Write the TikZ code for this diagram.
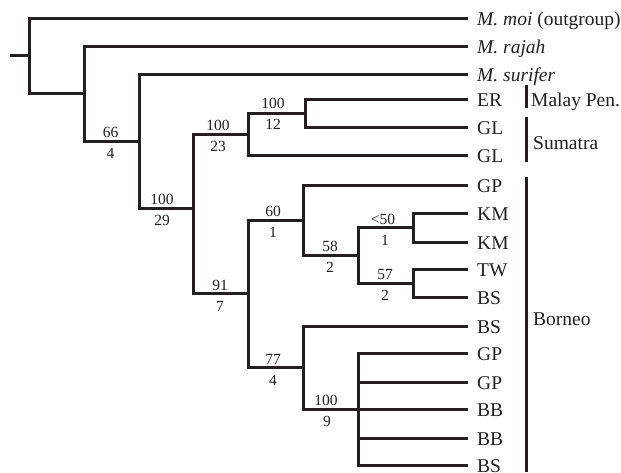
\documentclass[tikz,border=0pt]{standalone}
\usepackage{fontspec}
\setmainfont{Liberation Serif}
\definecolor{ink}{RGB}{35,31,32}
\begin{document}
\begin{tikzpicture}[x=1pt,y=-1pt,
  br/.style={line width=3pt,draw=ink},
  bar/.style={line width=3pt,draw=ink},
  tip/.style={anchor=west,inner xsep=9pt,inner ysep=0pt,text height=14pt,text depth=0pt,text=ink,font=\fontsize{19.5}{19.5}\selectfont},
  reg/.style={anchor=base west,inner sep=0pt,text=ink,font=\fontsize{19.5}{19.5}\selectfont},
  bs/.style={anchor=base,inner sep=0pt,text=ink,font=\fontsize{15.5}{15.5}\selectfont}]
\useasboundingbox (0,0) rectangle (621,472);
% tips
\node[tip] (t1) at (468,18) {\textit{M. moi} (outgroup)};
\node[tip] (t2) at (468,46) {\textit{M. rajah}};
\node[tip] (t3) at (468,74) {\textit{M. surifer}};
\node[tip] (t4) at (468,99) {ER};
\node[tip] (t5) at (468,127) {GL};
\node[tip] (t6) at (468,155) {GL};
\node[tip] (t7) at (468,185) {GP};
\node[tip] (t8) at (468,213) {KM};
\node[tip] (t9) at (468,242) {KM};
\node[tip] (t10) at (468,269) {TW};
\node[tip] (t11) at (468,297) {BS};
\node[tip] (t12) at (468,326) {BS};
\node[tip] (t13) at (468,353) {GP};
\node[tip] (t14) at (468,382) {GP};
\node[tip] (t15) at (468,409) {BB};
\node[tip] (t16) at (468,438) {BB};
\node[tip] (t17) at (468,465) {BS};
% internal nodes
\coordinate (stem) at (10,55.5);
\coordinate (root) at (29,55.5);
\coordinate (nA) at (84,93.5);
\coordinate (nB) at (139,141);
\coordinate (nC) at (193,208);
\coordinate (nD) at (248,134);
\coordinate (nE) at (305,113);
\coordinate (nF) at (248,293.5);
\coordinate (nG) at (303,220);
\coordinate (nH) at (358,255);
\coordinate (nI) at (413,227.5);
\coordinate (nJ) at (413,283);
\coordinate (nK) at (303,367.5);
\coordinate (nL) at (358,409);
% branches
\draw[br] (stem) -- (root);
\draw[br] (root) |- (t1.west);
\draw[br] (root) |- (nA);
\draw[br] (nA) |- (t2.west);
\draw[br] (nA) |- (nB);
\draw[br] (nB) |- (t3.west);
\draw[br] (nB) |- (nC);
\draw[br] (nC) |- (nD);
\draw[br] (nC) |- (nF);
\draw[br] (nD) |- (nE);
\draw[br] (nD) |- (t6.west);
\draw[br] (nE) |- (t4.west);
\draw[br] (nE) |- (t5.west);
\draw[br] (nF) |- (nG);
\draw[br] (nF) |- (nK);
\draw[br] (nG) |- (t7.west);
\draw[br] (nG) |- (nH);
\draw[br] (nH) |- (nI);
\draw[br] (nH) |- (nJ);
\draw[br] (nI) |- (t8.west);
\draw[br] (nI) |- (t9.west);
\draw[br] (nJ) |- (t10.west);
\draw[br] (nJ) |- (t11.west);
\draw[br] (nK) |- (t12.west);
\draw[br] (nK) |- (nL);
\draw[br] (nL) |- (t13.west);
\draw[br] (nL) |- (t14.west);
\draw[br] (nL) |- (t15.west);
\draw[br] (nL) |- (t16.west);
\draw[br] (nL) |- (t17.west);
% support values
\node[bs] (sB1) at (110.5,137.5) {66};
\node[bs] (sB2) at (110.5,158.5) {4};
\node[bs] (sC1) at (162,204.5) {100};
\node[bs] (sC2) at (162,225.5) {29};
\node[bs] (sD1) at (218,130.5) {100};
\node[bs] (sD2) at (218,151.5) {23};
\node[bs] (sE1) at (273,108.5) {100};
\node[bs] (sE2) at (273,129.5) {12};
\node[bs] (sG1) at (273,216.5) {60};
\node[bs] (sG2) at (273,237.5) {1};
\node[bs] (sF1) at (220,290) {91};
\node[bs] (sF2) at (220,311) {7};
\node[bs] (sK1) at (273,364) {77};
\node[bs] (sK2) at (273,385) {4};
\node[bs] (sH1) at (330,251) {58};
\node[bs] (sH2) at (330,272) {2};
\node[bs] (sI1) at (383,224) {<50};
\node[bs] (sI2) at (385,245) {1};
\node[bs] (sJ1) at (385,279.5) {57};
\node[bs] (sJ2) at (385,300.5) {2};
\node[bs] (sL1) at (326,405.5) {100};
\node[bs] (sL2) at (327,426.5) {9};
% regions
\draw[bar] (526,85) -- (526,108);
\draw[bar] (526,117) -- (526,162);
\draw[bar] (526,177) -- (526,472);
\node[reg] (rM) at (531,106) {Malay Pen.};
\node[reg] (rS) at (533,149) {Sumatra};
\node[reg] (rB) at (533,325) {Borneo};
\end{tikzpicture}
\end{document}
